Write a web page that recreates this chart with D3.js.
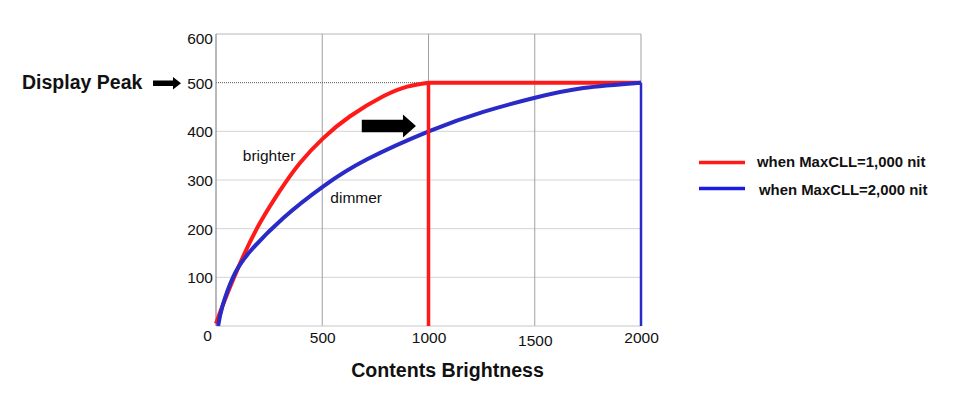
<!DOCTYPE html>
<html>
<head>
<meta charset="utf-8">
<script src="https://cdn.jsdelivr.net/npm/d3@7"></script>
<style>
  html, body { margin: 0; padding: 0; background: #fff; }
  svg { display: block; font-family: "Liberation Sans", Arial, sans-serif; }
</style>
</head>
<body>
<svg id="chart" width="960" height="396"></svg>
<script>
// ---- data ----
const xTicks = [0, 500, 1000, 1500, 2000];
const yTicks = [100, 200, 300, 400, 500, 600];
const redX = [0, 40, 128, 210, 301, 395, 505, 631, 787, 900, 1000];
const redY = [5, 52, 143, 214, 278, 335, 386, 431, 472, 492, 500];
const blueX = [10, 30, 81, 160, 317, 505, 709, 1007, 1258, 1501, 1729, 2000];
const blueY = [0, 40, 101, 153, 222, 287, 342, 401, 440, 469, 489, 500];
const maxCLL = [1000, 2000];
const displayPeak = 500;
const seriesNames = ["when MaxCLL=1,000 nit", "when MaxCLL=2,000 nit"];
const seriesColors = ["#ff1a1a", "#2a2ac6"];
const legendColors = ["#ff1a1a", "#1c1ce0"];
const xTitle = "Contents Brightness";
const peakLabel = "Display Peak";
const curveLabels = [
  { text: "brighter", x: 126, y: 340 },
  { text: "dimmer", x: 538, y: 253 }
];
const shiftArrow = { x0: 686, x1: 941, y: 411 };

// ---- chart ----
const svg = d3.select("#chart");
const x = d3.scaleLinear().domain([0, 2000]).range([216, 641]);
const y = d3.scaleLinear().domain([0, 600]).range([326, 34]);

// horizontal grid (light)
svg.append("g").selectAll("line")
  .data(yTicks.filter(v => v !== 500 && v !== 600))
  .join("line")
  .attr("x1", x(0)).attr("x2", x(2000))
  .attr("y1", d => y(d)).attr("y2", d => y(d))
  .attr("stroke", "#d4d4d4").attr("stroke-width", 1);

// top border
svg.append("line")
  .attr("x1", x(0)).attr("x2", x(2000)).attr("y1", y(600)).attr("y2", y(600))
  .attr("stroke", "#b8b8b8").attr("stroke-width", 1.2);

// vertical grid
svg.append("g").selectAll("line")
  .data([500, 1000, 1500, 2000])
  .join("line")
  .attr("x1", d => x(d)).attr("x2", d => x(d))
  .attr("y1", y(600)).attr("y2", y(0))
  .attr("stroke", "#a0a0a0").attr("stroke-width", 1);

// display peak dotted line
svg.append("line")
  .attr("x1", x(0)).attr("x2", x(maxCLL[0])).attr("y1", y(displayPeak)).attr("y2", y(displayPeak))
  .attr("stroke", "#555").attr("stroke-width", 1).attr("stroke-dasharray", "1,1");

// axes lines
svg.append("line")
  .attr("x1", x(0)).attr("x2", x(0)).attr("y1", y(600)).attr("y2", y(0))
  .attr("stroke", "#8c8c8c").attr("stroke-width", 1.2);
svg.append("line")
  .attr("x1", x(0)).attr("x2", x(2000)).attr("y1", y(0)).attr("y2", y(0))
  .attr("stroke", "#c8c8c8").attr("stroke-width", 1.2);

// y axis labels
const yAxis = d3.axisLeft(y).tickValues(yTicks).tickSize(0).tickPadding(3);
const gy = svg.append("g").attr("transform", `translate(${x(0)},0)`).call(yAxis);
gy.select(".domain").remove();
gy.selectAll("text")
  .attr("font-size", 15.5).attr("fill", "#111")
  .attr("font-family", "Liberation Sans, Arial, sans-serif")
  .attr("dy", d => d === 600 ? "0.62em" : "0.36em");

// x axis labels
const xAxis = d3.axisBottom(x).tickValues(xTicks).tickSize(0).tickPadding(6).tickFormat(d3.format("d"));
const gx = svg.append("g").attr("transform", `translate(0,${y(0)})`).call(xAxis);
gx.select(".domain").remove();
gx.selectAll("text")
  .attr("font-size", 15.5).attr("fill", "#111")
  .attr("font-family", "Liberation Sans, Arial, sans-serif")
  .attr("x", d => d === 0 ? -9 : 0)
  .attr("dy", d => d === 0 ? "0.58em" : (d === 1500 ? "0.92em" : "0.72em"));

// x title
svg.append("text")
  .attr("x", (x(0) + x(2000)) / 2 + 19).attr("y", 377)
  .attr("text-anchor", "middle")
  .attr("font-size", 19.6).attr("font-weight", "bold").attr("fill", "#111")
  .text(xTitle);

// curves
const line = d3.line().x(d => x(d[0])).y(d => y(d[1])).curve(d3.curveNatural);
const redPts = redX.map((v, i) => [v, redY[i]]);
const bluePts = blueX.map((v, i) => [v, blueY[i]]);

svg.append("path")
  .attr("d", line(redPts) + "L" + x(2000) + "," + y(displayPeak))
  .attr("fill", "none").attr("stroke", seriesColors[0]).attr("stroke-width", 4)
  .attr("stroke-linejoin", "round");

svg.append("path").datum(bluePts)
  .attr("d", line)
  .attr("fill", "none").attr("stroke", seriesColors[1]).attr("stroke-width", 4)
  .attr("stroke-linejoin", "round");

// vertical drops
svg.append("line")
  .attr("x1", x(maxCLL[0])).attr("x2", x(maxCLL[0]))
  .attr("y1", y(displayPeak)).attr("y2", y(0))
  .attr("stroke", seriesColors[0]).attr("stroke-width", 3.5);
svg.append("line")
  .attr("x1", x(maxCLL[1])).attr("x2", x(maxCLL[1]))
  .attr("y1", y(displayPeak)).attr("y2", y(0))
  .attr("stroke", seriesColors[1]).attr("stroke-width", 2.5);

// curve labels
svg.append("g").selectAll("text").data(curveLabels).join("text")
  .attr("x", d => x(d.x)).attr("y", d => y(d.y))
  .attr("font-size", 15.5).attr("fill", "#111")
  .text(d => d.text);

// block arrow helper
function blockArrow(x0, x1, yc, shaftH, headH, headL) {
  const xs = x1 - headL;
  return `M${x0},${yc - shaftH / 2}L${xs},${yc - shaftH / 2}L${xs},${yc - headH / 2}L${x1},${yc}` +
         `L${xs},${yc + headH / 2}L${xs},${yc + shaftH / 2}L${x0},${yc + shaftH / 2}Z`;
}

// shift arrow inside plot
svg.append("path")
  .attr("d", blockArrow(x(shiftArrow.x0), x(shiftArrow.x1), y(shiftArrow.y), 12.5, 23, 13))
  .attr("fill", "#000");

// display peak label + arrow
svg.append("text")
  .attr("x", 22).attr("y", y(displayPeak) + 6)
  .attr("font-size", 19.5).attr("font-weight", "bold").attr("fill", "#111")
  .text(peakLabel);
svg.append("path")
  .attr("d", blockArrow(153, 181, y(displayPeak) + 0.5, 5.5, 12.5, 8))
  .attr("fill", "#000");

// legend
const leg = svg.append("g");
const legY = [162.5, 188.5];
seriesNames.forEach((name, i) => {
  leg.append("line")
    .attr("x1", 699).attr("x2", 745)
    .attr("y1", legY[i]).attr("y2", legY[i])
    .attr("stroke", legendColors[i]).attr("stroke-width", 3.5);
  leg.append("text")
    .attr("x", 757 + i * 2).attr("y", legY[i] + 4.5 + i * 2)
    .attr("font-size", 14.9).attr("font-weight", "bold").attr("fill", "#111")
    .text(name);
});
</script>
</body>
</html>
